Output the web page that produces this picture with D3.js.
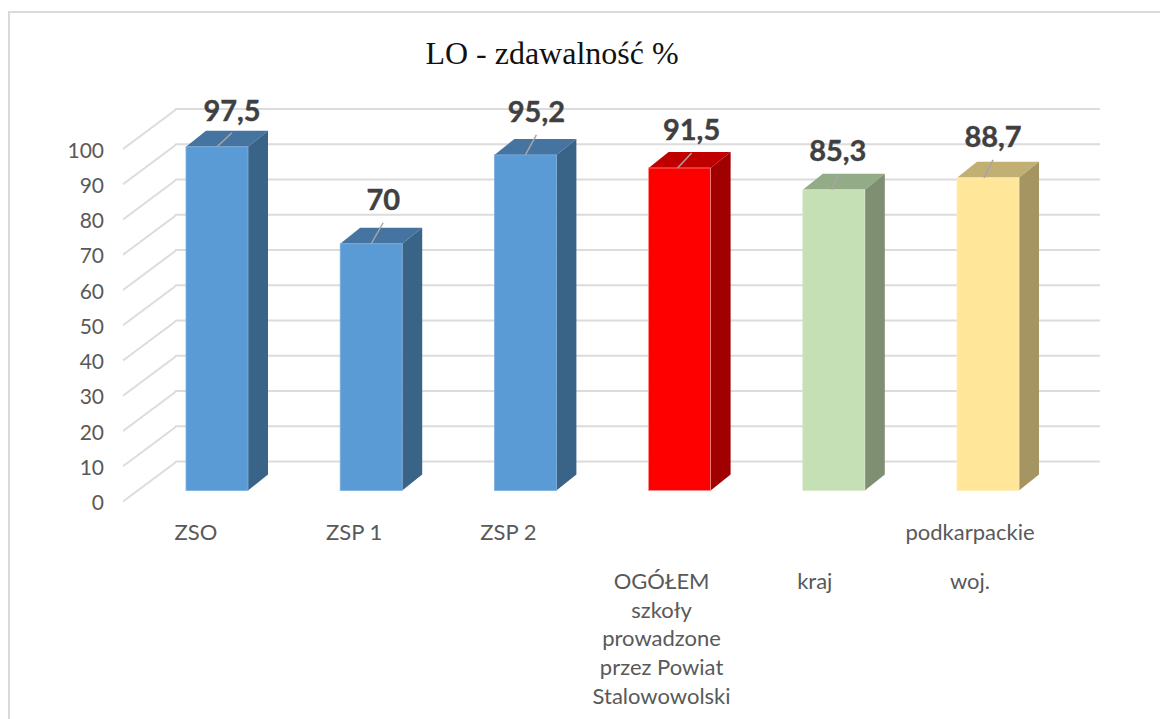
<!DOCTYPE html>
<html>
<head>
<meta charset="utf-8">
<script src="https://cdn.jsdelivr.net/npm/d3@7/dist/d3.min.js"></script>
<style>
html,body{margin:0;padding:0;background:#fff;overflow:hidden}
svg{display:block}
</style>
</head>
<body>
<svg id="c" width="1160" height="719"></svg>
<script>
const categories = ["ZSO","ZSP 1","ZSP 2","OGÓŁEM szkoły prowadzone przez Powiat Stalowowolski","kraj","podkarpackie woj."];
const values = [97.5,70,95.2,91.5,85.3,88.7];
const valueLabels = ["97,5","70","95,2","91,5","85,3","88,7"];
const yTicks = [0,10,20,30,40,50,60,70,80,90,100];
const title = "LO - zdawalność %";

// Presentation, kept apart from the data
const categoryLines = [["ZSO"],["ZSP 1"],["ZSP 2"],[null,"OGÓŁEM","szkoły","prowadzone","przez Powiat","Stalowowolski"],[null,"kraj"],["podkarpackie","woj."]];
const catLineY = [[534],[534],[534],[0,583,612,640,669,698],[0,583],[534,583]];
const catDx = [-21,-17,-17,-18,-19,-18];
const frontColors = ["#5b9bd5","#5b9bd5","#5b9bd5","#ff0000","#c5e0b4","#ffe699"];
const topColors   = ["#4674a0","#4674a0","#4674a0","#c00000","#94ab87","#c1af73"];
const sideColors  = ["#396387","#396387","#396387","#a00000","#7e8f72","#a49562"];
const edgeColors  = ["#7eb0df","#7eb0df","#7eb0df","#ff8a8a","#d3e8c6","#ffedb5"];
const leaderFrom = [0,0,0,-2,-2,-4];
const leaderDx = [15,12,11,14,6,9];
const leaderDy = [14,21,20,15,15,18];
const labelDx = [15,12,11,12,4,5];
const labelY = [114,203,115,133,154,140];

const svg = d3.select("#c");
const depthX = 20, depthY = 16;
const bw = 62;
const y = d3.scaleLinear().domain([0,100]).range([490.5,138]);
const x = d3.scalePoint().domain(categories).range([186,957]);
const barX = i => x(categories[i]);

// frame: the right and bottom edges fall outside the picture
svg.append("path").attr("d","M9,719V12H1160").attr("fill","none").attr("stroke","#d9d9d9").attr("stroke-width",2);

// title
svg.append("text").attr("x",552).attr("y",64).attr("text-anchor","middle")
  .attr("font-family","'Liberation Serif',serif").attr("font-size",32).attr("fill","#111").text(title);

// gridlines and side wall
const grid = svg.append("g");
yTicks.forEach(t=>{
  const yb = y(t)-29;
  grid.append("path").attr("d",`M123,${yb+40}L174,${yb+2}L176,${yb}H1100`)
    .attr("fill","none").attr("stroke","#dcdcdc").attr("stroke-width",2);
});

// y axis labels
const axis = d3.axisLeft(y).tickValues(yTicks).tickSize(0).tickPadding(0);
const ga = svg.append("g").attr("transform","translate(104,12.5)").call(axis);
ga.select(".domain").remove();
ga.selectAll("text").attr("font-family","Lato,sans-serif").attr("font-size",21).attr("fill","#595959");

// bars
const bars = svg.append("g").selectAll("g").data(values).join("g");
bars.append("path").attr("fill",(d,i)=>topColors[i])
  .attr("d",(d,i)=>`M${barX(i)},${y(d)}l${depthX},${-depthY}h${bw}l${-depthX},${depthY}z`);
bars.append("path").attr("fill",(d,i)=>sideColors[i])
  .attr("d",(d,i)=>`M${barX(i)+bw},${y(d)}l${depthX},${-depthY}V${y(0)-depthY}l${-depthX},${depthY}z`);
bars.append("rect").attr("x",(d,i)=>barX(i)).attr("y",d=>y(d)).attr("width",bw).attr("height",d=>y(0)-y(d))
  .attr("fill",(d,i)=>frontColors[i]).attr("stroke",(d,i)=>edgeColors[i]).attr("stroke-width",0.8);

// leader lines
bars.append("line").attr("stroke","#a6a6a6").attr("stroke-width",1.5)
  .attr("x1",(d,i)=>barX(i)+bw/2+leaderFrom[i]).attr("y1",d=>y(d))
  .attr("x2",(d,i)=>barX(i)+bw/2+leaderFrom[i]+leaderDx[i]).attr("y2",(d,i)=>y(d)-leaderDy[i]);

// value labels
bars.append("text").attr("text-anchor","middle").attr("dominant-baseline","middle")
  .attr("x",(d,i)=>barX(i)+bw/2+labelDx[i]).attr("y",(d,i)=>labelY[i])
  .attr("font-family","Lato,sans-serif").attr("font-weight",700).attr("font-size",29)
  .attr("fill","#404040").attr("stroke","#404040").attr("stroke-width",0.4)
  .text((d,i)=>valueLabels[i]);

// category labels
categoryLines.forEach((lines,i)=>{
  lines.forEach((l,j)=>{
    if(l===null) return;
    svg.append("text").attr("text-anchor","middle").attr("dominant-baseline","middle")
      .attr("x",barX(i)+bw/2+catDx[i]).attr("y",catLineY[i][j])
      .attr("font-family","Lato,sans-serif").attr("font-size",22).attr("fill","#595959").text(l);
  });
});
</script>
</body>
</html>
